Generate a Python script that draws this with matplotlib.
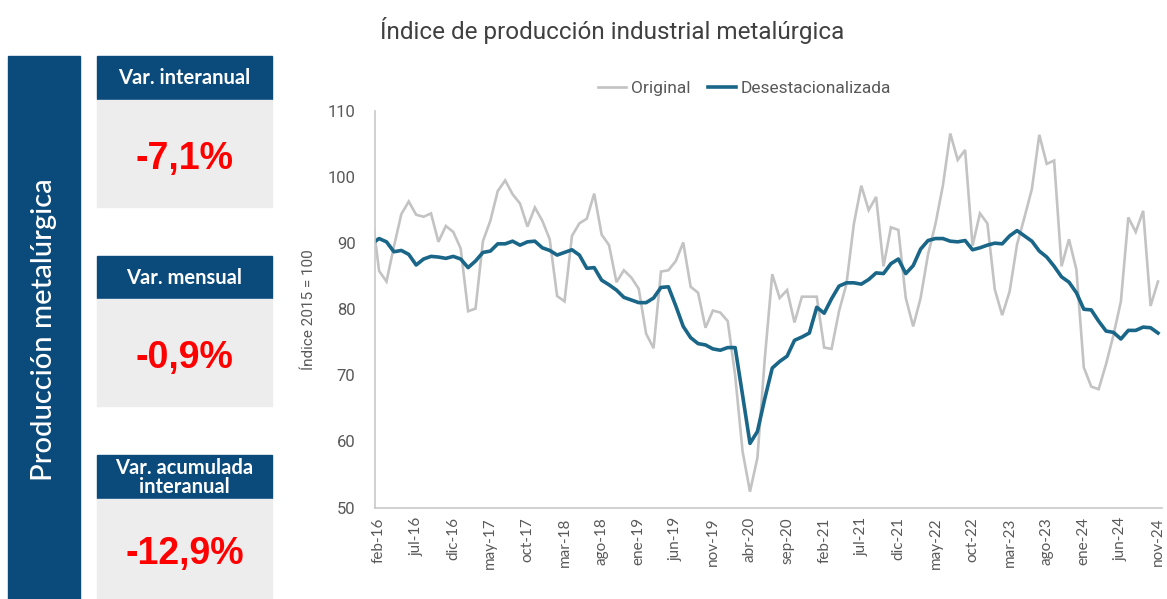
import matplotlib
matplotlib.use("Agg")
import matplotlib.pyplot as plt
import numpy as np
import pandas as pd
from matplotlib.patches import Rectangle

plt.rcParams["font.family"] = ["Liberation Sans Narrow", "Roboto", "DejaVu Sans"]

# monthly series, ene-16 .. nov-24 (ene-16 sits just left of the axis)
fechas = pd.date_range("2016-01-01", "2024-11-01", freq="MS")
meses = ["ene", "feb", "mar", "abr", "may", "jun", "jul", "ago", "sep", "oct", "nov", "dic"]
etiquetas = [f"{meses[d.month - 1]}-{d.year % 100:02d}" for d in fechas]

original = [
    94.9,
    85.8, 84.2, 89.5, 94.4, 96.3, 94.3, 94.0, 94.5, 90.2, 92.6, 91.7, 89.2,
    79.7, 80.1, 90.3, 93.4, 97.9, 99.5, 97.4, 96.0, 92.5, 95.4,
    93.4, 90.6, 82.0, 81.2, 91.1, 93.0, 93.7, 97.5, 91.3, 89.7, 84.1, 85.9,
    84.8, 83.1, 76.3, 74.1, 85.7, 85.9, 87.3, 90.1, 83.4,
    82.5, 77.2, 79.8, 79.5, 78.2, 70.0, 58.5, 52.4, 57.5, 72.6, 85.3, 81.7,
    82.9, 78.0, 81.9, 81.9, 81.9, 74.2, 74.0, 79.7, 83.8, 92.9,
    98.7, 95.0, 97.0, 86.5, 92.4, 92.0, 81.7, 77.4, 81.7, 88.3, 92.9, 98.7,
    106.6, 102.6, 104.1, 89.6, 94.5, 93.0, 83.0, 79.1, 82.7,
    89.8, 93.9, 98.2, 106.4, 102.0, 102.5, 86.5, 90.6, 86.0, 71.2, 68.3, 67.9,
    71.7, 76.1, 81.2, 93.9, 91.7, 94.9, 80.5, 84.2,
]
desestacionalizada = [
    89.9,
    90.7, 90.2, 88.7, 88.9, 88.3, 86.7, 87.6, 88.0, 87.9, 87.7, 88.0, 87.6,
    86.3, 87.3, 88.6, 88.8, 89.9, 89.9, 90.3, 89.7, 90.2, 90.3,
    89.3, 88.9, 88.2, 88.6, 89.0, 88.2, 86.2, 86.3, 84.4, 83.7, 82.9, 81.8,
    81.4, 81.0, 81.0, 81.7, 83.3, 83.4, 80.5, 77.4, 75.7,
    74.8, 74.6, 74.0, 73.8, 74.2, 74.2, 67.0, 59.7, 61.5, 66.5, 71.1, 72.1,
    72.9, 75.3, 75.8, 76.4, 80.3, 79.4, 81.6, 83.5, 84.0, 84.0,
    83.8, 84.5, 85.5, 85.4, 86.9, 87.6, 85.4, 86.6, 89.1, 90.4, 90.7, 90.7,
    90.3, 90.2, 90.4, 89.0, 89.3, 89.7, 90.0, 89.9, 91.1,
    91.9, 91.1, 90.3, 88.8, 87.9, 86.5, 84.9, 84.1, 82.5, 80.0, 79.9, 78.2,
    76.7, 76.5, 75.5, 76.8, 76.8, 77.3, 77.2, 76.4,
]

indicadores = ["Var. interanual", "Var. mensual", "Var. acumulada\ninteranual"]
valores = ["-7,1%", "-0,9%", "-12,9%"]

W, H = 1167, 599
azul_osc = "#0B4B7C"
azul_linea = "#1A6688"
gris_linea = "#C3C3C3"
gris_txt = "#595959"

fig = plt.figure(figsize=(W / 100, H / 100), dpi=100)

# left panel, drawn in pixel coordinates
panel = fig.add_axes([0, 0, 1, 1])
panel.set_xlim(0, W)
panel.set_ylim(H, 0)
panel.axis("off")

panel.add_patch(Rectangle((8, 56), 72, H - 56, color=azul_osc))
panel.text(44, 330, "Producción metalúrgica", rotation=90, color="white",
           fontsize=21, family=["Lato", "DejaVu Sans"], fontweight="medium",
           ha="center", va="center")

cajas = [(56, 99, 207), (256, 298, 406), (455, 498, 599)]
for (top, mid, bot), nombre, val in zip(cajas, indicadores, valores):
    panel.add_patch(Rectangle((97, top), 175, mid - top, color=azul_osc))
    panel.add_patch(Rectangle((97, mid + 1), 175, bot - mid - 1, color="#EDEDED"))
    panel.text(184.5, (top + mid) / 2 + 1, nombre, color="white", fontsize=14.5,
               family=["Lato", "DejaVu Sans"], fontweight="bold",
               ha="center", va="center", linespacing=0.95)
    panel.text(184.5, (mid + bot) / 2 + 6, val, color="#FF0000", fontsize=27,
               family=["Liberation Sans", "DejaVu Sans"], fontweight="bold",
               ha="center", va="center")

fig.text(380 / W, 1 - 30 / H, "Índice de producción industrial metalúrgica",
         fontsize=17.5, color="#404040", ha="left", va="center")

# chart
ax = fig.add_axes([375 / W, 1 - 507.5 / H, (1161.7 - 375) / W, (507.5 - 111) / H])
x = np.arange(len(fechas)) - 1
ax.plot(x, original, color=gris_linea, lw=1.9, label="Original", solid_joinstyle="miter")
ax.plot(x, desestacionalizada, color=azul_linea, lw=2.6, label="Desestacionalizada")

ax.set_xlim(-0.55, 105.5)
ax.set_ylim(50, 110)
ax.set_yticks(range(50, 111, 10))
ticks = list(range(0, 106, 5))
ax.set_xticks(ticks)
ax.set_xticklabels([etiquetas[t + 1] for t in ticks], rotation=90,
                   family=["Lato", "DejaVu Sans"], fontsize=11, color=gris_txt)
ax.tick_params(axis="both", length=0, colors=gris_txt)
ax.tick_params(axis="y", labelsize=12, pad=14)
ax.tick_params(axis="x", pad=7)
ax.set_ylabel("Índice 2015 = 100", fontsize=11, color=gris_txt, labelpad=8)
for s in ["top", "right"]:
    ax.spines[s].set_visible(False)
for s in ["left", "bottom"]:
    ax.spines[s].set_color("#C8C8C8")
    ax.spines[s].set_linewidth(1.2)

ax.legend(loc="upper center", bbox_to_anchor=(0.47, 1.115), ncol=2, frameon=False,
          fontsize=12.5, handlelength=1.6, handletextpad=0.3, columnspacing=1.0,
          labelcolor=gris_txt)

fig.savefig("out.png", dpi=100)
